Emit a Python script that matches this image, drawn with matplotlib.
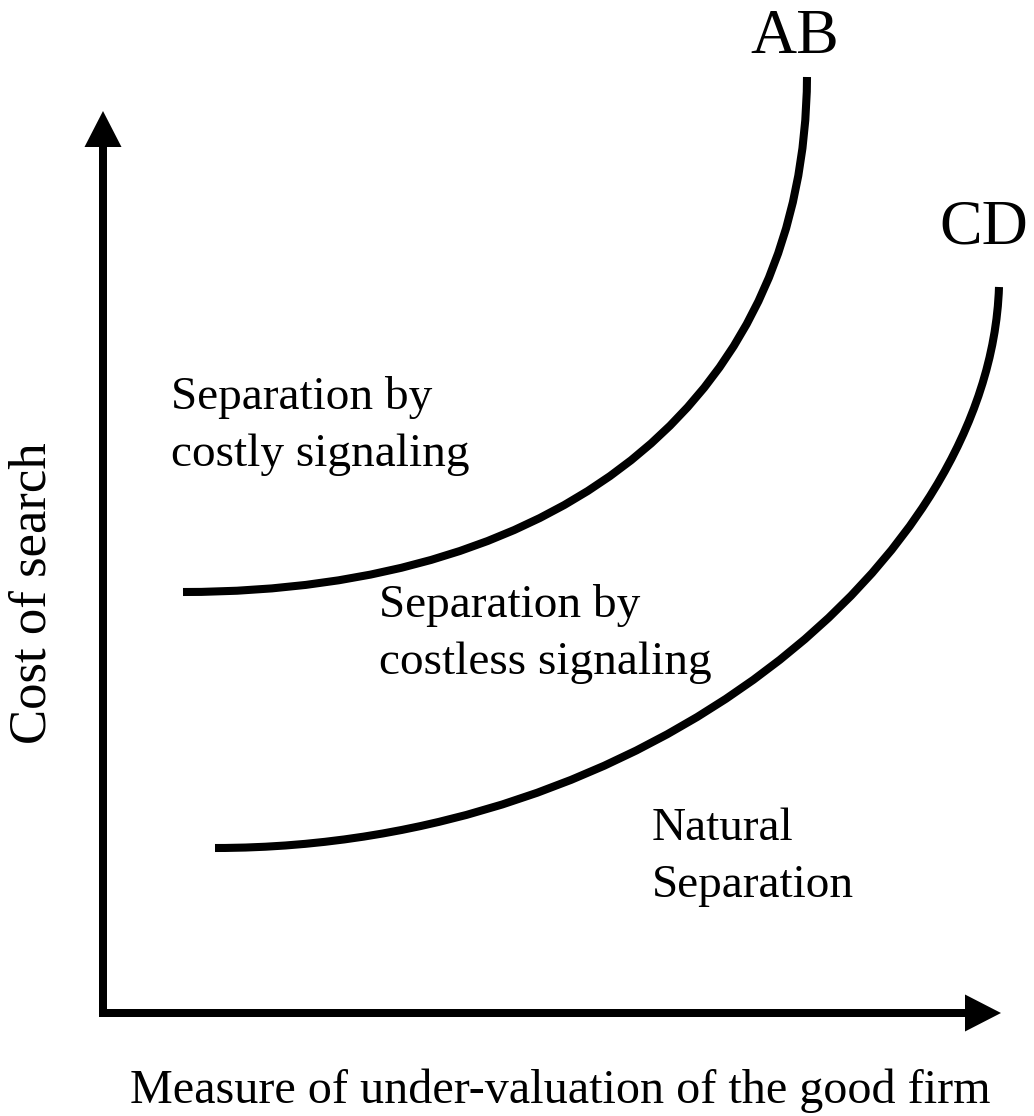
import matplotlib.pyplot as plt
from matplotlib.path import Path
from matplotlib.patches import PathPatch

# curve control points (cubic Bezier), in picture units
ab_curve = [(183, 592), (575, 592), (805, 390), (807, 77)]
cd_curve = [(215, 848), (650, 848), (990, 560), (999, 287)]

curve_names = ["AB", "CD"]
region_labels = [["Separation by", "costly signaling"],
                 ["Separation by", "costless signaling"],
                 ["Natural", "Separation"]]
x_label = "Measure of under-valuation of the good firm"
y_label = "Cost of search"

plt.rcParams['font.family'] = ['Liberation Serif', 'DejaVu Serif']

fig = plt.figure(figsize=(10.34, 11.16), dpi=100)
ax = fig.add_axes([0, 0, 1, 1])
ax.set_xlim(0, 1034)
ax.set_ylim(1116, 0)
ax.axis('off')

# axes arrows
ax.arrow(103, 1017, 0, -906, width=8, head_width=37, head_length=36,
         length_includes_head=True, fc='black', ec='none')
ax.arrow(99, 1013, 902, 0, width=8, head_width=37, head_length=36,
         length_includes_head=True, fc='black', ec='none')

codes = [Path.MOVETO, Path.CURVE4, Path.CURVE4, Path.CURVE4]
for pts in (ab_curve, cd_curve):
    ax.add_patch(PathPatch(Path(pts, codes), fc='none', ec='black',
                           lw=5.8, capstyle='butt'))

ax.text(750, 53, curve_names[0], fontsize=46, va='baseline', ha='left')
ax.text(939, 243, curve_names[1], fontsize=46, va='baseline', ha='left')

label_pos = [(171, 409, 466), (379, 617, 674), (652, 840, 897)]
for lines, (x, y1, y2) in zip(region_labels, label_pos):
    ax.text(x, y1, lines[0], fontsize=34, va='baseline', ha='left')
    ax.text(x, y2, lines[1], fontsize=34, va='baseline', ha='left')

ax.text(130, 1103, x_label, fontsize=34.7, va='baseline', ha='left')
ax.text(33, 593, y_label, fontsize=38, rotation=90, va='center', ha='center')

fig.savefig('out.png', dpi=100)
